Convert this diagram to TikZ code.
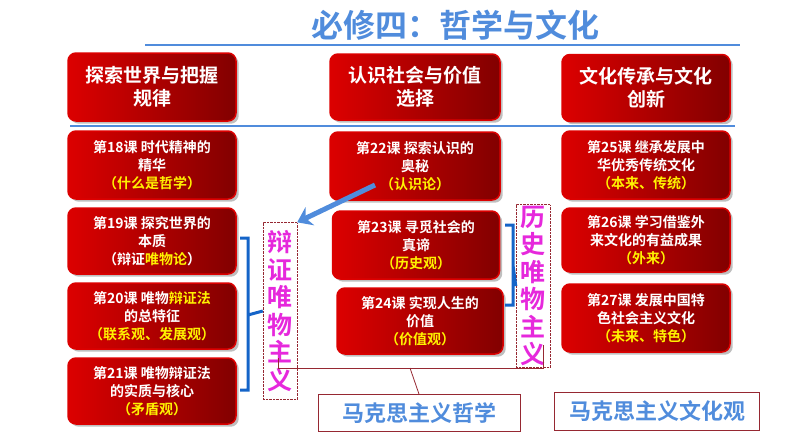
\documentclass[tikz,border=0pt]{standalone}
\usepackage{fontspec}
\setmainfont{Noto Sans CJK SC}[BoldFont={* Bold}]
\usetikzlibrary{shadows,arrows.meta}
\definecolor{rd}{RGB}{220,0,0}
\definecolor{drd}{RGB}{130,0,0}
\definecolor{bl}{RGB}{80,140,220}
\definecolor{bk}{RGB}{20,100,200}
\definecolor{mg}{RGB}{230,40,220}
\definecolor{br}{RGB}{150,40,50}
\tikzset{
 rbox/.style={draw=rd,line width=1.5pt,rounded corners=8pt,left color=rd,right color=drd,
   drop shadow={opacity=0.5},text=white,font=\bfseries,align=center,inner sep=0pt},
 hd/.style={rbox,font=\bfseries\fontsize{19}{23}\selectfont},
 ls/.style={rbox,font=\bfseries\fontsize{14}{18}\selectfont},
 vt/.style={draw=br,densely dotted,thin,text=mg,font=\bfseries\fontsize{25}{27.5}\selectfont,align=center,inner sep=1pt},
 bt/.style={draw=br,thick,text=bl,font=\bfseries\fontsize{22}{24}\selectfont}
}
\newcommand{\yl}[1]{\textcolor{yellow}{#1}}
\begin{document}
\begin{tikzpicture}[x=1pt,y=-1pt]
\useasboundingbox (0,0) rectangle (794,447);
\node[text=bl,font=\bfseries\fontsize{32}{34}\selectfont] (t) at (455,25) {必修四：哲学与文化};
\draw[bl,line width=2.5pt] (145,45) -- (740,45);
\foreach \n/\x/\y/\w/\h/\s/\t in {
 h1/152/87/168/68/hd/{探索世界与把握\\规律},
 h2/415/87/170/66/hd/{认识社会与价值\\选择},
 h3/646/88/168/67/hd/{文化传承与文化\\创新},
 a/152/165/168/68/ls/{第18课 时代精神的\\精华\\\yl{（什么是哲学）}},
 b/152/241/168/66/ls/{第19课 探究世界的\\本质\\（辩证\yl{唯物论}）},
 c/152/316/168/66/ls/{第20课 唯物\yl{辩证法}\\的总特征\\\yl{（联系观、发展观）}},
 d/152/391/168/66/ls/{第21课 唯物辩证法\\的实质与核心\\\yl{（矛盾观）}},
 e/415/166/170/68/ls/{第22课 探索认识的\\奥秘\\\yl{（认识论）}},
 f/416/245/167/68/ls/{第23课 寻觅社会的\\真谛\\\yl{（历史观）}},
 g/420/321/166/66/ls/{第24课 实现人生的\\价值\\\yl{（价值观）}},
 k/646/165/168/68/ls/{第25课 继承发展中\\华优秀传统文化\\\yl{（本来、传统）}},
 l/646/240/168/64/ls/{第26课 学习借鉴外\\来文化的有益成果\\\yl{（外来）}},
 m/646/318/168/68/ls/{第27课 发展中国特\\色社会主义文化\\\yl{（未来、特色）}}}
 \node[\s,minimum width=\w pt,minimum height=\h pt] (\n) at (\x,\y) {\t};
\draw[bl,line width=2.5pt] (70,126) -- (735,126);
\node[vt,minimum width=34pt,minimum height=177pt] (v1) at (280,311) {辩\\证\\唯\\物\\主\\义};
\node[vt,minimum width=34pt,minimum height=163pt] (v2) at (533,286) {历\\史\\唯\\物\\主\\义};
\draw[bk,line width=3pt] (240,238) -- (248,238) -- (248,390) -- (240,390) (248,315) -- (v1.west);
\draw[bk,line width=3pt] (505,225) -- (513,225) -- (513,305) -- (505,305) (513,265) -- (v2.west);
\draw[bl,line width=5pt,-{Stealth[length=14pt,width=20pt]}] (375,185) -- (v1.north east);
\node[bt,minimum width=202pt,minimum height=37pt] (p) at (419,413) {马克思主义哲学};
\node[bt,minimum width=205pt,minimum height=38pt] (q) at (657,411) {马克思主义文化观};
\draw[br,thick] (278,358) -- (278,368) -- (543,368) -- (543,345);
\draw[br,thick] (410,368) -- (p.north);
\end{tikzpicture}
\end{document}
